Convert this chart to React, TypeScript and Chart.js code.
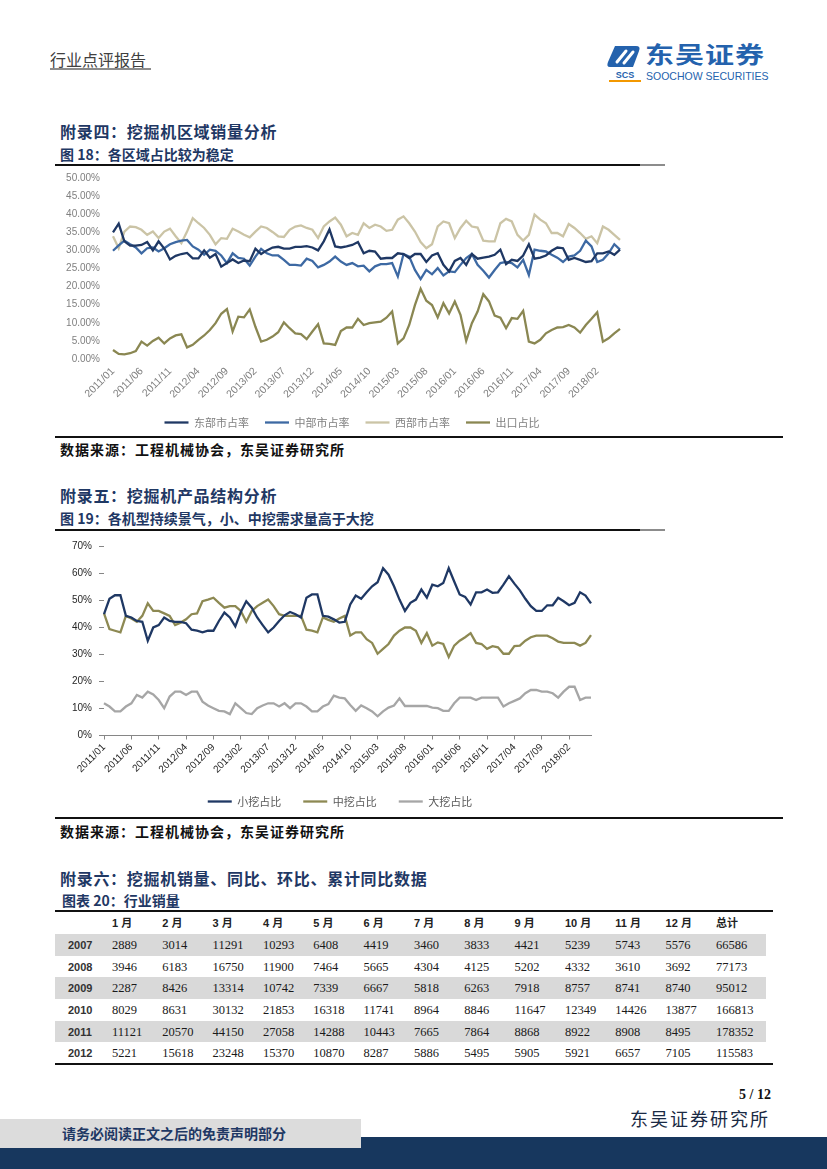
import React, { useEffect, useRef } from 'react';
import { Chart, registerables } from 'chart.js';

Chart.register(...registerables);

// ---------- DATA ----------
const MONTHS: string[] = [];
for (let y = 2011; y <= 2018; y++) {
  for (let m = 1; m <= 12; m++) {
    if (y === 2018 && m > 6) break;
    MONTHS.push(`${y}/${String(m).padStart(2, '0')}`);
  }
}

// Chart 18: regional shares (%)
const EAST = [35.0, 37.4, 32.5, 31.3, 31.3, 31.5, 32.3, 30.0, 32.5, 30.5, 27.5, 28.5, 29.0, 29.3, 27.8, 27.8, 30.0, 28.0, 29.0, 25.5, 26.5, 27.5, 26.5, 27.2, 27.0, 30.5, 29.0, 30.0, 30.8, 31.0, 30.5, 30.5, 31.0, 31.0, 31.2, 30.8, 30.0, 32.5, 35.8, 31.1, 30.8, 31.1, 31.5, 32.3, 29.2, 29.9, 29.7, 27.7, 27.9, 27.9, 29.2, 29.0, 27.9, 29.0, 29.0, 26.8, 28.6, 29.2, 26.0, 24.2, 27.1, 27.9, 26.0, 29.0, 27.7, 28.0, 28.3, 28.8, 30.2, 26.2, 27.4, 27.1, 28.6, 31.7, 27.7, 28.0, 28.6, 29.9, 30.8, 30.6, 27.4, 27.9, 27.4, 26.8, 27.0, 29.2, 29.2, 29.7, 28.8, 30.2];
const CENTRAL = [29.9, 31.4, 32.7, 31.7, 30.8, 29.2, 30.6, 30.8, 29.7, 30.6, 31.7, 32.3, 32.7, 32.9, 31.1, 30.2, 28.8, 30.2, 29.9, 28.6, 26.5, 29.2, 27.9, 27.7, 25.8, 28.3, 30.4, 29.2, 28.6, 28.6, 27.4, 26.0, 26.0, 25.8, 27.7, 27.1, 25.3, 26.0, 26.9, 28.3, 26.9, 26.0, 26.5, 25.6, 25.8, 24.2, 25.6, 26.2, 26.2, 26.5, 22.8, 29.0, 28.3, 24.6, 22.1, 24.6, 23.4, 25.1, 23.1, 24.2, 24.0, 26.0, 27.9, 29.0, 26.0, 24.4, 22.5, 24.6, 26.5, 26.8, 26.5, 25.3, 27.4, 23.2, 30.2, 29.9, 29.7, 28.8, 28.0, 26.8, 28.3, 28.6, 29.9, 32.7, 31.1, 26.8, 27.4, 29.2, 31.7, 30.2];
const WEST = [33.9, 30.6, 35.2, 36.6, 36.4, 35.7, 34.3, 35.2, 33.4, 35.2, 36.0, 33.9, 32.0, 35.2, 38.9, 37.5, 36.2, 34.3, 31.7, 33.4, 33.2, 36.0, 35.2, 34.3, 33.6, 35.2, 36.6, 36.2, 35.1, 33.9, 33.7, 35.7, 36.6, 36.9, 36.2, 35.7, 33.4, 36.6, 38.0, 39.1, 37.1, 33.9, 34.8, 34.3, 37.5, 36.2, 37.1, 36.6, 35.4, 35.7, 38.5, 39.4, 37.5, 35.2, 32.3, 30.6, 31.7, 36.6, 38.0, 37.5, 33.4, 36.2, 38.2, 36.6, 36.3, 32.7, 32.5, 32.5, 37.5, 38.7, 38.0, 34.3, 32.7, 34.3, 39.9, 38.5, 37.5, 34.8, 34.8, 33.9, 37.3, 36.2, 34.8, 33.2, 33.9, 32.0, 36.6, 35.7, 34.3, 32.9];
const EXPORT = [2.5, 1.4, 1.3, 1.6, 2.2, 4.8, 3.7, 5.0, 5.9, 4.3, 5.7, 6.5, 6.8, 3.2, 3.9, 5.3, 6.5, 8.0, 9.9, 12.5, 13.8, 7.6, 11.7, 11.5, 13.7, 8.9, 4.8, 5.3, 6.2, 7.4, 10.1, 8.5, 7.1, 6.9, 5.5, 7.6, 9.6, 4.3, 4.2, 3.9, 7.7, 8.7, 8.7, 11.1, 9.4, 9.9, 10.1, 10.3, 11.4, 13.1, 4.3, 5.7, 9.4, 14.9, 19.4, 16.1, 14.9, 11.5, 15.4, 12.6, 15.9, 12.2, 5.0, 9.9, 13.1, 17.9, 15.9, 12.0, 11.4, 8.5, 11.3, 11.1, 13.3, 4.8, 4.3, 5.3, 7.1, 8.0, 8.7, 8.8, 9.4, 8.7, 7.3, 9.4, 11.1, 12.9, 4.8, 5.7, 7.1, 8.3];

// Chart 19: product structure (%)
const SMALL = [44.8, 50.5, 51.8, 51.8, 44.2, 43.6, 42.3, 42.0, 35.0, 39.9, 40.8, 43.6, 42.3, 42.0, 42.0, 41.5, 39.1, 38.7, 38.1, 38.7, 38.7, 42.3, 45.4, 43.6, 40.3, 45.6, 49.6, 47.2, 43.6, 40.8, 38.1, 39.9, 42.3, 44.4, 45.6, 44.8, 43.6, 50.9, 52.1, 52.1, 44.2, 43.9, 42.9, 41.7, 42.0, 48.4, 51.7, 50.5, 52.9, 55.1, 56.6, 61.8, 59.4, 55.1, 50.2, 46.0, 49.0, 50.2, 53.9, 50.9, 55.7, 55.1, 56.3, 61.8, 56.9, 52.1, 51.2, 48.4, 52.9, 52.9, 53.9, 52.7, 52.9, 55.7, 58.8, 56.1, 53.6, 50.5, 47.8, 46.0, 46.0, 48.1, 48.1, 50.9, 49.6, 48.1, 49.0, 52.9, 51.7, 48.8];
const MEDIUM = [45.1, 39.3, 38.7, 38.1, 44.2, 43.2, 42.0, 44.2, 48.8, 46.0, 46.0, 45.1, 44.2, 40.8, 41.7, 42.9, 44.8, 45.1, 49.6, 50.2, 50.9, 49.0, 47.2, 47.8, 47.8, 46.0, 42.0, 46.0, 47.8, 49.0, 50.2, 47.8, 44.8, 44.2, 44.2, 44.2, 44.2, 39.1, 38.7, 38.1, 43.6, 42.7, 42.0, 43.2, 44.2, 36.9, 38.1, 38.1, 35.6, 34.2, 30.2, 32.0, 33.8, 36.9, 38.7, 39.9, 39.9, 38.7, 34.2, 37.8, 33.2, 34.4, 33.8, 29.0, 33.2, 35.0, 36.3, 37.8, 34.2, 33.8, 32.0, 33.0, 32.6, 30.2, 30.2, 33.0, 33.2, 35.0, 36.3, 36.9, 36.9, 36.9, 35.9, 34.7, 34.2, 34.2, 34.2, 33.2, 34.2, 37.1];
const LARGE = [11.9, 10.7, 8.9, 8.9, 10.7, 11.9, 15.0, 14.0, 16.2, 15.2, 13.1, 10.1, 14.4, 16.2, 16.2, 15.0, 16.2, 16.2, 12.5, 11.1, 10.1, 9.1, 8.9, 7.9, 11.9, 10.1, 8.3, 7.9, 10.1, 11.1, 11.9, 11.9, 10.7, 11.9, 10.1, 11.9, 11.9, 10.7, 8.9, 8.9, 10.7, 11.6, 14.7, 14.0, 13.7, 11.3, 9.1, 11.1, 10.1, 8.9, 7.1, 8.9, 10.3, 11.1, 13.7, 10.9, 10.9, 10.9, 10.9, 10.9, 10.3, 10.1, 9.1, 9.1, 11.9, 14.0, 14.0, 14.0, 13.1, 14.0, 14.0, 14.0, 14.0, 10.7, 11.9, 12.8, 13.7, 15.6, 16.8, 16.8, 16.2, 16.2, 15.6, 14.0, 16.2, 18.0, 18.0, 13.1, 14.0, 14.0];

// Table 20: monthly sales
const TABLE_HEAD = ['1 月', '2 月', '3 月', '4 月', '5 月', '6 月', '7 月', '8 月', '9 月', '10 月', '11 月', '12 月', '总计'];
const TABLE_YEARS = ['2007', '2008', '2009', '2010', '2011', '2012'];
const SALES_2007 = [2889, 3014, 11291, 10293, 6408, 4419, 3460, 3833, 4421, 5239, 5743, 5576, 66586];
const SALES_2008 = [3946, 6183, 16750, 11900, 7464, 5665, 4304, 4125, 5202, 4332, 3610, 3692, 77173];
const SALES_2009 = [2287, 8426, 13314, 10742, 7339, 6667, 5818, 6263, 7918, 8757, 8741, 8740, 95012];
const SALES_2010 = [8029, 8631, 30132, 21853, 16318, 11741, 8964, 8846, 11647, 12349, 14426, 13877, 166813];
const SALES_2011 = [11121, 20570, 44150, 27058, 14288, 10443, 7665, 7864, 8868, 8922, 8908, 8495, 178352];
const SALES_2012 = [5221, 15618, 23248, 15370, 10870, 8287, 5886, 5495, 5905, 5921, 6657, 7105, 115583];
const TABLE_ROWS = [SALES_2007, SALES_2008, SALES_2009, SALES_2010, SALES_2011, SALES_2012];

// ---------- STYLE ----------
const CJK = "'Noto Sans CJK SC', sans-serif";
const SANS = "'Liberation Sans', Arial, 'Noto Sans CJK SC', sans-serif";
const SERIF = "'Liberation Serif', 'Times New Roman', serif";
const NAVY = '#1f3864';

Chart.defaults.font.family = SANS;

const tickCb = (_v: any, i: number) => (i % 5 === 0 ? MONTHS[i] : null);

function ChartCanvas({ left, top, width, height, build }: any) {
  const ref = useRef<HTMLCanvasElement | null>(null);
  useEffect(() => {
    const chart = new Chart(ref.current as HTMLCanvasElement, build());
    return () => chart.destroy();
  }, []);
  return (
    <canvas
      ref={ref}
      width={width}
      height={height}
      style={{ position: 'absolute', left, top, width, height }}
    />
  );
}

const line = (label: string, data: number[], color: string) => ({
  label,
  data,
  borderColor: color,
  backgroundColor: color,
  borderWidth: 2.3,
  pointRadius: 0,
  tension: 0,
});

// invisible right-hand axis, used only to reserve room at the right of the plot
const spacerAxis = (w: number) => ({
  position: 'right',
  display: true,
  min: 0,
  max: 1,
  grid: { display: false, drawTicks: false },
  border: { display: false },
  ticks: { display: false },
  afterFit: (a: any) => { a.width = w; },
});

const buildChart1 = (): any => ({
  type: 'line',
  data: {
    labels: MONTHS,
    datasets: [
      line('东部市占率', EAST, '#1f3864'),
      line('中部市占率', CENTRAL, '#3d69a3'),
      line('西部市占率', WEST, '#cbc4a6'),
      line('出口占比', EXPORT, '#8a8752'),
    ],
  },
  options: {
    responsive: false,
    animation: false,
    layout: { padding: { left: 0, right: 0, top: 10, bottom: 0 } },
    plugins: {
      legend: {
        position: 'bottom',
        labels: {
          usePointStyle: true,
          pointStyle: 'line',
          pointStyleWidth: 24,
          padding: 16,
          color: '#808080',
          font: { size: 11, family: CJK },
        },
      },
      tooltip: { enabled: false },
    },
    scales: {
      x: {
        type: 'category',
        offset: false,
        grid: { display: false, drawTicks: false },
        border: { display: false },
        ticks: {
          autoSkip: false,
          minRotation: 45,
          maxRotation: 45,
          padding: 6,
          color: '#7f7f7f',
          font: { size: 10.5 },
          callback: tickCb,
        },
        afterFit: (a: any) => { a.height = 42; },
      },
      y: {
        min: 0,
        max: 50,
        grid: { display: false, drawTicks: false },
        border: { display: false },
        ticks: {
          stepSize: 5,
          padding: 13,
          color: '#7f7f7f',
          font: { size: 10 },
          callback: (v: any) => Number(v).toFixed(2) + '%',
        },
        afterFit: (a: any) => { a.width = 58; },
      },
      y2: spacerAxis(29),
    },
  },
});

const buildChart2 = (): any => ({
  type: 'line',
  data: {
    labels: MONTHS,
    datasets: [
      line('小挖占比', SMALL, '#1f3864'),
      line('中挖占比', MEDIUM, '#8d8953'),
      line('大挖占比', LARGE, '#a6a6a6'),
    ],
  },
  options: {
    responsive: false,
    animation: false,
    layout: { padding: { left: 0, right: 0, top: 10, bottom: 0 } },
    plugins: {
      legend: {
        position: 'bottom',
        labels: {
          usePointStyle: true,
          pointStyle: 'line',
          pointStyleWidth: 24,
          padding: 22,
          color: '#595959',
          font: { size: 11, family: CJK },
        },
      },
      tooltip: { enabled: false },
    },
    scales: {
      x: {
        type: 'category',
        offset: false,
        grid: { display: true, drawOnChartArea: false, drawTicks: true, tickLength: 4, color: '#868686' },
        border: { display: true, color: '#868686', width: 1 },
        ticks: {
          autoSkip: false,
          minRotation: 45,
          maxRotation: 45,
          padding: 2,
          color: '#262626',
          font: { size: 10 },
          callback: tickCb,
        },
        afterFit: (a: any) => { a.height = 38.5; },
      },
      y: {
        min: 0,
        max: 70,
        grid: { display: true, drawOnChartArea: false, drawTicks: true, tickLength: 5, color: '#868686' },
        border: { display: false },
        ticks: {
          stepSize: 10,
          padding: 7,
          color: '#262626',
          font: { size: 10 },
          callback: (v: any) => Number(v).toFixed(0) + '%',
        },
        afterFit: (a: any) => { a.width = 49; },
      },
      y2: spacerAxis(34),
    },
  },
});

function Txt({ x, cy, size, color = '#000', weight = 400, family = CJK, children, right, spacing }: any) {
  const h = Math.round(size * 1.6);
  const st: any = {
    position: 'absolute',
    top: cy - h / 2,
    height: h,
    lineHeight: `${h}px`,
    fontSize: size,
    color,
    fontWeight: weight,
    fontFamily: family,
    whiteSpace: 'nowrap',
    letterSpacing: spacing,
  };
  if (right !== undefined) st.right = 827 - right;
  else st.left = x;
  return <div style={st}>{children}</div>;
}

function HLine({ x, y, w, h = 2, color = '#1a1a1a' }: any) {
  return <div style={{ position: 'absolute', left: x, top: y - h / 2, width: w, height: h, background: color }} />;
}

const COL_X = [112, 162.3, 212.6, 263, 313.3, 363.6, 414, 464.3, 514.6, 565, 615.3, 665.6, 716];

export default function App() {
  const rowTop = 934;
  const rowH = 21.7;
  return (
    <div style={{ position: 'absolute', left: 0, top: 0, width: 827, height: 1169, background: '#fff', overflow: 'hidden' }}>
      {/* Header */}
      <Txt x={50} cy={59} size={16} color="#404040">行业点评报告</Txt>
      <HLine x={50} y={69} w={101} h={2} color="#8c8c8c" />
      <svg style={{ position: 'absolute', left: 606, top: 45 }} width={38} height={38} viewBox="0 0 38 38">
        <path d="M9 1 H30 Q35 1 33 6 L27 22 H4 Q0 22 2 17 Z" fill="#2462ad" />
        <path d="M11 17 L20 6" stroke="#fff" strokeWidth={3} strokeLinecap="round" />
        <path d="M18 18 L27 7" stroke="#fff" strokeWidth={3} strokeLinecap="round" />
        <text x={19} y={33} textAnchor="middle" fontFamily={SANS} fontWeight={700} fontSize={9} fill="#2462ad">SCS</text>
        <rect x={3} y={35} width={32} height={2} fill="#f39800" />
      </svg>
      <div style={{ position: 'absolute', left: 645, top: 40, fontSize: 29, fontWeight: 700, color: '#2462ad', fontFamily: CJK, lineHeight: '34px', transform: 'scale(1, 0.78)', transformOrigin: 'left top', letterSpacing: 1, whiteSpace: 'nowrap' }}>东吴证券</div>
      <Txt x={646} cy={76} size={10.5} color="#2462ad" family={SANS}>SOOCHOW SECURITIES</Txt>

      {/* Section 4 */}
      <Txt x={60} cy={131} size={16} color={NAVY} weight={700} spacing={0.7}>附录四：挖掘机区域销量分析</Txt>
      <Txt x={60} cy={154} size={14} color={NAVY} weight={700}>图 18：各区域占比较为稳定</Txt>
      <HLine x={55} y={165} w={585} h={2} color="#111" />
      <HLine x={640} y={165} w={25} h={2} color="#8c8c8c" />
      <ChartCanvas left={55} top={159} width={594} height={279} build={buildChart1} />
      <HLine x={55} y={437} w={728} h={2} color="#111" />
      <Txt x={60} cy={449} size={14} weight={700} color="#111" spacing={1}>数据来源：工程机械协会，东吴证券研究所</Txt>

      {/* Section 5 */}
      <Txt x={60} cy={495} size={16} color={NAVY} weight={700} spacing={0.7}>附录五：挖掘机产品结构分析</Txt>
      <Txt x={60} cy={518} size={14} color={NAVY} weight={700}>图 19：各机型持续景气，小、中挖需求量高于大挖</Txt>
      <HLine x={55} y={530} w={585} h={2} color="#111" />
      <HLine x={640} y={530} w={25} h={2} color="#8c8c8c" />
      <ChartCanvas left={55} top={533} width={570} height={284} build={buildChart2} />
      <HLine x={55} y={818} w={728} h={2} color="#111" />
      <Txt x={60} cy={831} size={14} weight={700} color="#111" spacing={1}>数据来源：工程机械协会，东吴证券研究所</Txt>

      {/* Section 6 */}
      <Txt x={60} cy={878} size={16} color={NAVY} weight={700} spacing={0.7}>附录六：挖掘机销量、同比、环比、累计同比数据</Txt>
      <Txt x={62} cy={900} size={14} color={NAVY} weight={700}>图表 20：行业销量</Txt>
      <HLine x={55} y={911} w={718} h={2} color="#111" />
      {TABLE_HEAD.map((h, i) => (
        <Txt key={h} x={COL_X[i]} cy={923} size={11} weight={700} color="#222" family={SANS}>{h}</Txt>
      ))}
      {TABLE_ROWS.map((row, r) => (
        <React.Fragment key={TABLE_YEARS[r]}>
          {r % 2 === 0 && (
            <div style={{ position: 'absolute', left: 55, top: rowTop + r * rowH, width: 711, height: rowH, background: '#d9d9d9' }} />
          )}
          <Txt x={68} cy={rowTop + r * rowH + rowH / 2} size={11} weight={700} color="#333" family={SANS}>{TABLE_YEARS[r]}</Txt>
          {row.map((v, i) => (
            <Txt key={i} x={COL_X[i]} cy={rowTop + r * rowH + rowH / 2} size={12.5} color="#1a1a1a" family={SERIF}>{v}</Txt>
          ))}
        </React.Fragment>
      ))}
      <HLine x={55} y={1064} w={718} h={2} color="#111" />

      {/* Footer */}
      <Txt right={771} cy={1095} size={14} weight={700} color="#111" family={SERIF}>5 / 12</Txt>
      <Txt right={770} cy={1118} size={18} color="#1a2a44" spacing={2}>东吴证券研究所</Txt>
      <div style={{ position: 'absolute', left: 0, top: 1137, width: 827, height: 32, background: '#17375e' }} />
      <div style={{ position: 'absolute', left: 0, top: 1119, width: 361, height: 29, background: '#dcdcdc' }} />
      <Txt x={62} cy={1133} size={14} weight={700} color={NAVY}>请务必阅读正文之后的免责声明部分</Txt>
    </div>
  );
}
